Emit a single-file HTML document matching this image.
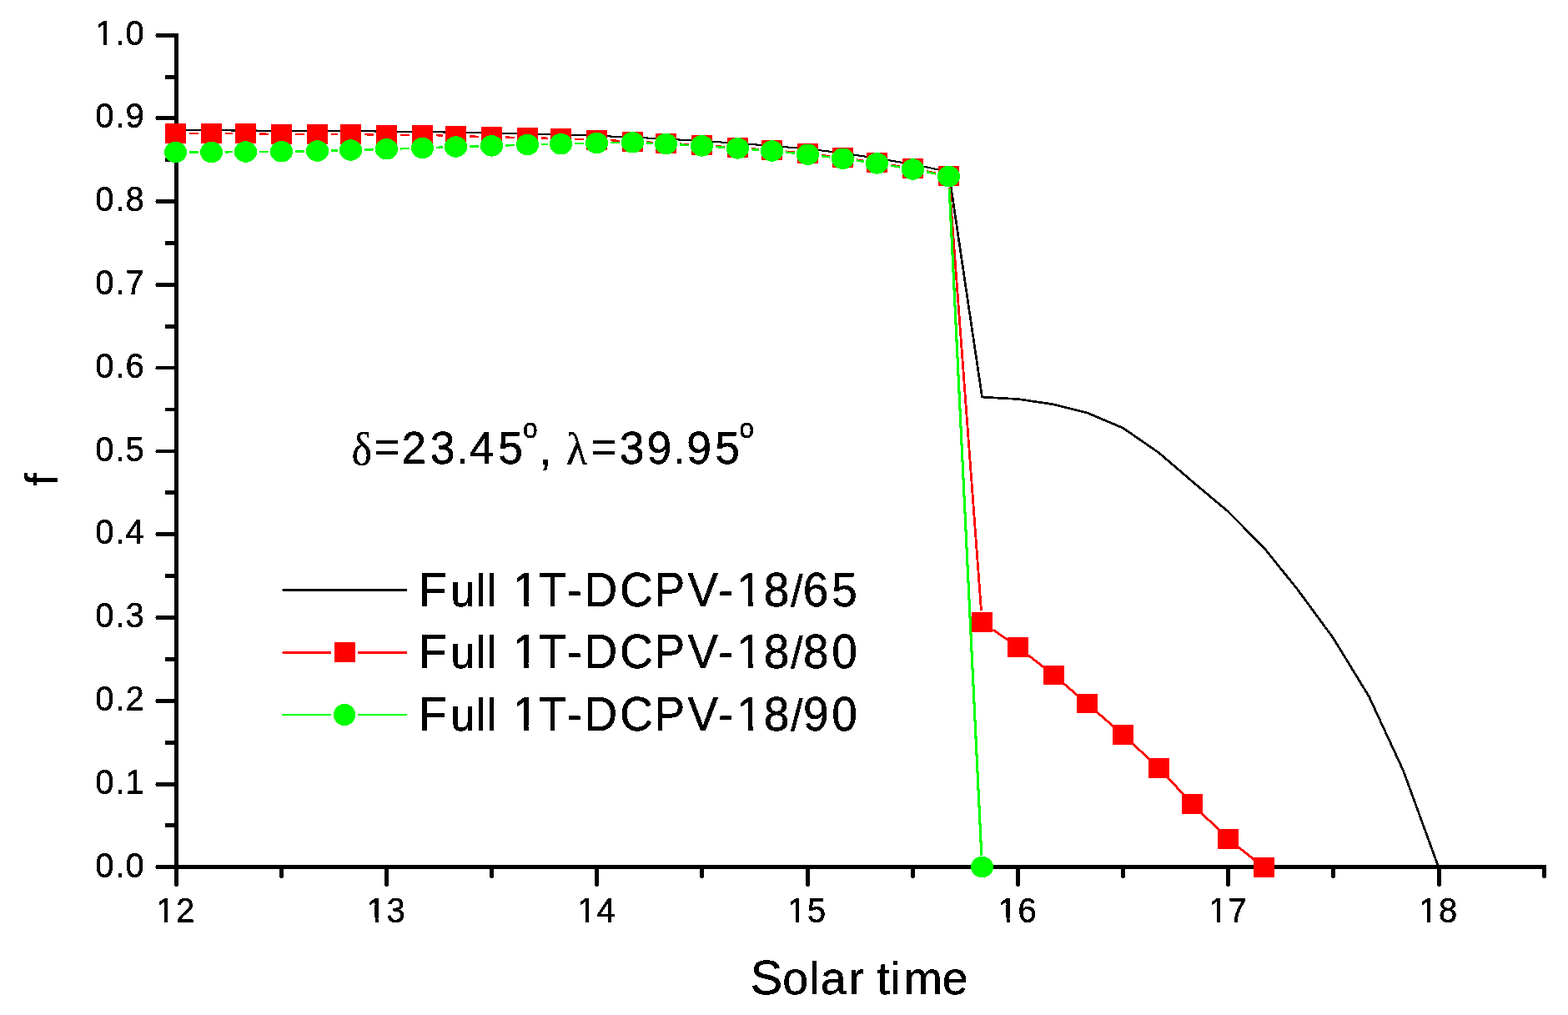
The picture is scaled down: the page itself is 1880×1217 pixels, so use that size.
<!DOCTYPE html>
<html lang="en"><head><meta charset="utf-8"><title>Solar time chart</title>
<style>
html,body{margin:0;padding:0;background:#fff;}
body{width:1880px;height:1217px;overflow:hidden;}
svg{display:block;}
text{font-family:"Liberation Sans",sans-serif;fill:#000;stroke:#000;stroke-width:0.4px;white-space:pre;}
.sym{font-family:"Liberation Serif",serif;stroke-width:0.3px;}
</style></head><body>
<svg width="1880" height="1217" viewBox="0 0 1880 1217">
<rect x="0" y="0" width="1880" height="1217" fill="#fff"/>
<defs><filter id="px" x="-5%" y="-20%" width="110%" height="140%" color-interpolation-filters="sRGB"><feComponentTransfer><feFuncA type="discrete" tableValues="0 1"/></feComponentTransfer></filter><clipPath id="cy1"><path clip-rule="evenodd" shape-rendering="crispEdges" d="M-3000-3000H3000V3000H-3000ZM2.12 -4.77H10V2H2.12ZM14.24 -4.77H21.8V2H14.24Z"/></clipPath><clipPath id="cx1"><path clip-rule="evenodd" shape-rendering="crispEdges" d="M-3000-3000H3000V3000H-3000ZM2.12 -4.77H10V2H2.12ZM14.24 -4.77H21.8V2H14.24Z"/></clipPath><clipPath id="cl1"><path clip-rule="evenodd" shape-rendering="crispEdges" d="M-3000-3000H3000V3000H-3000ZM617.9 -5.81H628.24V2H617.9ZM633.7 -5.81H643.61V2H633.7ZM886.8 -5.81H897.14V2H886.8ZM902.6 -5.81H912.51V2H902.6Z"/></clipPath></defs>
<g fill="#000" shape-rendering="crispEdges">
<rect x="209" y="40" width="5" height="1022"/>
<rect x="210" y="1062" width="3" height="1"/>
<rect x="187" y="1037" width="1667" height="5"/>
<rect x="186" y="1039" width="1" height="1"/>
<rect x="198" y="987" width="11" height="5"/>
<rect x="187" y="938" width="22" height="5"/>
<rect x="186" y="940" width="1" height="1"/>
<rect x="198" y="888" width="11" height="5"/>
<rect x="187" y="838" width="22" height="5"/>
<rect x="186" y="840" width="1" height="1"/>
<rect x="198" y="788" width="11" height="5"/>
<rect x="187" y="738" width="22" height="5"/>
<rect x="186" y="740" width="1" height="1"/>
<rect x="198" y="688" width="11" height="5"/>
<rect x="187" y="638" width="22" height="5"/>
<rect x="186" y="640" width="1" height="1"/>
<rect x="198" y="588" width="11" height="5"/>
<rect x="187" y="539" width="22" height="4"/>
<rect x="186" y="541" width="1" height="1"/>
<rect x="198" y="489" width="11" height="4"/>
<rect x="187" y="439" width="22" height="4"/>
<rect x="186" y="441" width="1" height="1"/>
<rect x="198" y="389" width="11" height="5"/>
<rect x="187" y="339" width="22" height="5"/>
<rect x="186" y="341" width="1" height="1"/>
<rect x="198" y="289" width="11" height="5"/>
<rect x="187" y="239" width="22" height="5"/>
<rect x="186" y="241" width="1" height="1"/>
<rect x="198" y="189" width="11" height="5"/>
<rect x="187" y="139" width="22" height="5"/>
<rect x="186" y="141" width="1" height="1"/>
<rect x="198" y="90" width="11" height="5"/>
<rect x="187" y="40" width="22" height="5"/>
<rect x="186" y="42" width="1" height="1"/>
<rect x="335" y="1042" width="5" height="10"/>
<rect x="336" y="1052" width="3" height="1"/>
<rect x="461" y="1042" width="5" height="20"/>
<rect x="462" y="1062" width="3" height="1"/>
<rect x="587" y="1042" width="5" height="10"/>
<rect x="588" y="1052" width="3" height="1"/>
<rect x="713" y="1042" width="5" height="20"/>
<rect x="714" y="1062" width="3" height="1"/>
<rect x="839" y="1042" width="5" height="10"/>
<rect x="840" y="1052" width="3" height="1"/>
<rect x="966" y="1042" width="5" height="20"/>
<rect x="967" y="1062" width="3" height="1"/>
<rect x="1092" y="1042" width="5" height="10"/>
<rect x="1093" y="1052" width="3" height="1"/>
<rect x="1218" y="1042" width="5" height="20"/>
<rect x="1219" y="1062" width="3" height="1"/>
<rect x="1344" y="1042" width="5" height="10"/>
<rect x="1345" y="1052" width="3" height="1"/>
<rect x="1470" y="1042" width="5" height="20"/>
<rect x="1471" y="1062" width="3" height="1"/>
<rect x="1596" y="1042" width="5" height="10"/>
<rect x="1597" y="1052" width="3" height="1"/>
<rect x="1723" y="1042" width="5" height="20"/>
<rect x="1724" y="1062" width="3" height="1"/>
<rect x="1849" y="1042" width="5" height="10"/>
<rect x="1850" y="1052" width="3" height="1"/>
</g>
<g id="ylabels" filter="url(#px)">
<text transform="translate(114.3 1051.65) scale(0.975 1.055)"><tspan x="0 24.51 37.13" y="0" font-size="41px">0.0</tspan></text>
<text transform="translate(114.3 951.85) scale(0.975 1.055)"><tspan x="0 24.51 37.13" y="0" font-size="41px">0.1</tspan></text>
<text transform="translate(114.3 852.05) scale(0.975 1.055)"><tspan x="0 24.51 37.13" y="0" font-size="41px">0.2</tspan></text>
<text transform="translate(114.3 752.25) scale(0.975 1.055)"><tspan x="0 24.51 37.13" y="0" font-size="41px">0.3</tspan></text>
<text transform="translate(114.3 652.45) scale(0.975 1.055)"><tspan x="0 24.51 37.13" y="0" font-size="41px">0.4</tspan></text>
<text transform="translate(114.3 552.65) scale(0.975 1.055)"><tspan x="0 24.51 37.13" y="0" font-size="41px">0.5</tspan></text>
<text transform="translate(114.3 452.85) scale(0.975 1.055)"><tspan x="0 24.51 37.13" y="0" font-size="41px">0.6</tspan></text>
<text transform="translate(114.3 353.05) scale(0.975 1.055)"><tspan x="0 24.51 37.13" y="0" font-size="41px">0.7</tspan></text>
<text transform="translate(114.3 253.25) scale(0.975 1.055)"><tspan x="0 24.51 37.13" y="0" font-size="41px">0.8</tspan></text>
<text transform="translate(114.3 153.45) scale(0.975 1.055)"><tspan x="0 24.51 37.13" y="0" font-size="41px">0.9</tspan></text>
<text transform="translate(114.5 53.65) scale(0.975 1.055)" clip-path="url(#cy1)"><tspan x="0 24.31 36.92" y="0" font-size="41px">1.0</tspan></text>
</g>
<g id="xlabels" filter="url(#px)">
<text transform="translate(187.5 1105.9) scale(0.975 1.055)" clip-path="url(#cx1)"><tspan x="0 24.21" y="0" font-size="41px">12</tspan></text>
<text transform="translate(439.83 1105.9) scale(0.975 1.055)" clip-path="url(#cx1)"><tspan x="0 24.21" y="0" font-size="41px">13</tspan></text>
<text transform="translate(692.16 1105.9) scale(0.975 1.055)" clip-path="url(#cx1)"><tspan x="0 24.21" y="0" font-size="41px">14</tspan></text>
<text transform="translate(944.49 1105.9) scale(0.975 1.055)" clip-path="url(#cx1)"><tspan x="0 24.21" y="0" font-size="41px">15</tspan></text>
<text transform="translate(1196.82 1105.9) scale(0.975 1.055)" clip-path="url(#cx1)"><tspan x="0 24.21" y="0" font-size="41px">16</tspan></text>
<text transform="translate(1449.15 1105.9) scale(0.975 1.055)" clip-path="url(#cx1)"><tspan x="0 24.21" y="0" font-size="41px">17</tspan></text>
<text transform="translate(1701.48 1105.9) scale(0.975 1.055)" clip-path="url(#cx1)"><tspan x="0 24.21" y="0" font-size="41px">18</tspan></text>
</g>
<g id="titles" filter="url(#px)">
<text transform="translate(0 1191.9)"><tspan x="899.79" y="0" font-size="57.5px">S</tspan><tspan x="938.27 970.46 983.74 1017.41 1035.9 1051.16 1067.29 1083.71 1129.64" y="0" font-size="55.5px">olar time</tspan></text>
<text transform="translate(69 575) rotate(-90)" font-size="56px" text-anchor="middle">f</text>
<text transform="translate(0 556) scale(1 1.044)"><tspan class="sym" x="421.57" y="0.48" font-size="52.5px">δ</tspan><tspan x="448.89" y="-1.92" font-size="51.5px">=</tspan><tspan x="481.31 515.86 546.91 562.97 597.36" y="0" font-size="53.5px">23.45</tspan><tspan x="626.91" y="-29.69" font-size="31.8px">o</tspan><tspan x="646.59 661.46" y="0.48" font-size="53.5px">, </tspan><tspan class="sym" x="678.77" y="0.77" font-size="52.5px">λ</tspan><tspan x="708.99" y="-1.92" font-size="51.5px">=</tspan><tspan x="742.66 775.39 806.91 823.19 857.36" y="0" font-size="53.5px">39.95</tspan><tspan x="886.61" y="-29.69" font-size="31.8px">o</tspan></text>
</g>
<g id="series-65" fill="none" stroke="#000" stroke-linejoin="miter" shape-rendering="crispEdges">
<polyline stroke-width="2.1" points="210.5,156.3 253.5,156.4 294.5,156.5 337.5,156.7 380.5,156.9 420.5,157.2 463.5,157.6 506.5,158.1 546.5,158.7 589.5,159.5 632.5,160.4 672.5,161.5 715.5,162.8 758.5,164.6 798.5,166.7 841.5,169 884.5,171.8 925.5,174.9 968.5,178.5 1010.5,183.6 1051.5,189.8 1094.5,197 1137.5,206"/>
<polyline stroke-width="2.7" points="1137.5,206 1177.5,476.1 1220.5,478.5 1263.5,484.9 1303.5,495 1346.5,513.2 1389.5,542.9 1429.5,577.3 1472.5,613.4 1515.5,656.8 1555.5,706.5 1598.5,765 1641.5,835.3 1682.5,923.9 1724.5,1039"/>
</g>
<g id="series-80">
<g stroke="#f00" fill="none" shape-rendering="crispEdges">
<line x1="227.1" y1="160.1" x2="237.7" y2="160.1" stroke-width="2.2"/>
<line x1="270.1" y1="160.1" x2="278.7" y2="160.1" stroke-width="2.2"/>
<line x1="311.1" y1="160.45" x2="321.7" y2="160.67" stroke-width="2.2"/>
<line x1="354.1" y1="161" x2="364.7" y2="161" stroke-width="2.2"/>
<line x1="397.1" y1="161" x2="404.7" y2="161" stroke-width="2.2"/>
<line x1="437.1" y1="161.35" x2="447.7" y2="161.57" stroke-width="2.2"/>
<line x1="480.1" y1="161.9" x2="490.7" y2="161.9" stroke-width="2.2"/>
<line x1="523.09" y1="162.36" x2="530.71" y2="162.57" stroke-width="2.2"/>
<line x1="563.09" y1="163.42" x2="573.71" y2="163.7" stroke-width="2.2"/>
<line x1="606.09" y1="164.49" x2="616.71" y2="164.73" stroke-width="2.2"/>
<line x1="649.09" y1="165.47" x2="656.71" y2="165.64" stroke-width="2.2"/>
<line x1="689.09" y1="166.62" x2="699.71" y2="167.01" stroke-width="2.2"/>
<line x1="732.08" y1="168.33" x2="742.72" y2="168.8" stroke-width="2.2"/>
<line x1="775.07" y1="170.37" x2="782.73" y2="170.77" stroke-width="2.2"/>
<line x1="815.07" y1="172.52" x2="825.73" y2="173.12" stroke-width="2.2"/>
<line x1="858.05" y1="175.15" x2="868.75" y2="175.9" stroke-width="2.2"/>
<line x1="901.04" y1="178.21" x2="909.75" y2="178.85" stroke-width="2.2"/>
<line x1="942.01" y1="181.54" x2="952.79" y2="182.54" stroke-width="2.2"/>
<line x1="984.95" y1="185.96" x2="994.84" y2="187.14" stroke-width="2.2"/>
<line x1="1026.88" y1="191.4" x2="1035.91" y2="192.72" stroke-width="2.2"/>
<line x1="1067.83" y1="197.66" x2="1078.96" y2="199.47" stroke-width="2.2"/>
<line x1="1110.7" y1="205.2" x2="1122.08" y2="207.45" stroke-width="2.2"/>
<line x1="1138.6" y1="225.17" x2="1176.46" y2="731.93" stroke-width="2.8"/>
<line x1="1190.5" y1="754.93" x2="1208.15" y2="767.33" stroke-width="2.8"/>
<line x1="1232.96" y1="785.71" x2="1251.67" y2="800.28" stroke-width="2.8"/>
<line x1="1275.46" y1="819.69" x2="1292.15" y2="833.93" stroke-width="2.8"/>
<line x1="1315.34" y1="853.9" x2="1335.26" y2="871.23" stroke-width="2.8"/>
<line x1="1357.96" y1="891.63" x2="1378.63" y2="910.81" stroke-width="2.8"/>
<line x1="1400.05" y1="932.24" x2="1419.49" y2="953.14" stroke-width="2.8"/>
<line x1="1440.63" y1="974.8" x2="1461.94" y2="995.66" stroke-width="2.8"/>
<line x1="1484.88" y1="1015.79" x2="1503.75" y2="1030.71" stroke-width="2.8"/>
</g>
<g fill="#f00" shape-rendering="crispEdges">
<rect x="198" y="148" width="25" height="24"/>
<rect x="241" y="148" width="25" height="24"/>
<rect x="282" y="148" width="25" height="24"/>
<rect x="325" y="149" width="25" height="24"/>
<rect x="368" y="149" width="25" height="24"/>
<rect x="408" y="149" width="25" height="24"/>
<rect x="451" y="150" width="25" height="24"/>
<rect x="494" y="150" width="25" height="24"/>
<rect x="534" y="151" width="25" height="24"/>
<rect x="577" y="152" width="25" height="24"/>
<rect x="620" y="153" width="25" height="24"/>
<rect x="660" y="154" width="25" height="24"/>
<rect x="703" y="156" width="25" height="24"/>
<rect x="746" y="158" width="25" height="24"/>
<rect x="786" y="160" width="25" height="24"/>
<rect x="829" y="162" width="25" height="24"/>
<rect x="872" y="165" width="25" height="24"/>
<rect x="913" y="168" width="25" height="24"/>
<rect x="956" y="172" width="25" height="24"/>
<rect x="998" y="177" width="25" height="24"/>
<rect x="1039" y="183" width="25" height="24"/>
<rect x="1082" y="190" width="25" height="24"/>
<rect x="1125" y="199" width="25" height="24"/>
<rect x="1165" y="734" width="25" height="24"/>
<rect x="1208" y="764" width="25" height="24"/>
<rect x="1251" y="798" width="25" height="23"/>
<rect x="1291" y="832" width="25" height="23"/>
<rect x="1334" y="869" width="25" height="24"/>
<rect x="1377" y="909" width="25" height="24"/>
<rect x="1417" y="952" width="25" height="24"/>
<rect x="1460" y="994" width="25" height="24"/>
<rect x="1503" y="1028" width="25" height="24"/>
</g></g>
<g id="series-90">
<g stroke="#0f0" fill="none" shape-rendering="crispEdges">
<line x1="227.1" y1="182.5" x2="237.7" y2="182.5" stroke-width="2.5"/>
<line x1="270.1" y1="182.3" x2="278.7" y2="182.19" stroke-width="2.5"/>
<line x1="311.1" y1="181.92" x2="321.7" y2="181.87" stroke-width="2.5"/>
<line x1="354.1" y1="181.49" x2="364.7" y2="181.29" stroke-width="2.5"/>
<line x1="397.09" y1="180.59" x2="404.71" y2="180.39" stroke-width="2.5"/>
<line x1="437.09" y1="179.54" x2="447.71" y2="179.24" stroke-width="2.5"/>
<line x1="480.09" y1="178.3" x2="490.71" y2="177.98" stroke-width="2.5"/>
<line x1="523.09" y1="176.88" x2="530.71" y2="176.59" stroke-width="2.5"/>
<line x1="563.09" y1="175.58" x2="573.71" y2="175.3" stroke-width="2.5"/>
<line x1="606.09" y1="174.4" x2="616.71" y2="174.08" stroke-width="2.5"/>
<line x1="649.09" y1="173.23" x2="656.71" y2="173.06" stroke-width="2.5"/>
<line x1="689.09" y1="172.24" x2="699.71" y2="171.94" stroke-width="2.5"/>
<line x1="732.1" y1="171.23" x2="742.7" y2="171.06" stroke-width="2.5"/>
<line x1="775.08" y1="171.55" x2="782.72" y2="171.89" stroke-width="2.5"/>
<line x1="815.07" y1="173.49" x2="825.73" y2="174.06" stroke-width="2.5"/>
<line x1="858.05" y1="176.05" x2="868.75" y2="176.8" stroke-width="2.5"/>
<line x1="901.04" y1="179.15" x2="909.76" y2="179.81" stroke-width="2.5"/>
<line x1="942" y1="182.61" x2="952.8" y2="183.67" stroke-width="2.5"/>
<line x1="984.95" y1="187.16" x2="994.84" y2="188.34" stroke-width="2.5"/>
<line x1="1026.9" y1="192.48" x2="1035.89" y2="193.73" stroke-width="2.5"/>
<line x1="1067.82" y1="198.59" x2="1078.97" y2="200.44" stroke-width="2.5"/>
<line x1="1110.7" y1="206.2" x2="1122.08" y2="208.45" stroke-width="2.5"/>
<line x1="1138.21" y1="226.19" x2="1176.83" y2="1025.61" stroke-width="3.1"/>
</g>
<g fill="#0f0" shape-rendering="crispEdges">
<ellipse cx="210.5" cy="182.5" rx="13.6" ry="12.7"/>
<ellipse cx="253.5" cy="182.5" rx="13.6" ry="12.7"/>
<ellipse cx="294.5" cy="182" rx="13.6" ry="12.7"/>
<ellipse cx="337.5" cy="181.8" rx="13.6" ry="12.7"/>
<ellipse cx="380.5" cy="181" rx="13.6" ry="12.7"/>
<ellipse cx="420.5" cy="180" rx="13.6" ry="12.7"/>
<ellipse cx="463.5" cy="178.8" rx="13.6" ry="12.7"/>
<ellipse cx="506.5" cy="177.5" rx="13.6" ry="12.7"/>
<ellipse cx="546.5" cy="176" rx="13.6" ry="12.7"/>
<ellipse cx="589.5" cy="174.9" rx="13.6" ry="12.7"/>
<ellipse cx="632.5" cy="173.6" rx="13.6" ry="12.7"/>
<ellipse cx="672.5" cy="172.7" rx="13.6" ry="12.7"/>
<ellipse cx="715.5" cy="171.5" rx="13.6" ry="12.7"/>
<ellipse cx="758.5" cy="170.8" rx="13.6" ry="12.7"/>
<ellipse cx="798.5" cy="172.6" rx="13.6" ry="12.7"/>
<ellipse cx="841.5" cy="174.9" rx="13.6" ry="12.7"/>
<ellipse cx="884.5" cy="177.9" rx="13.6" ry="12.7"/>
<ellipse cx="925.5" cy="181" rx="13.6" ry="12.7"/>
<ellipse cx="968.5" cy="185.2" rx="13.6" ry="12.7"/>
<ellipse cx="1010.5" cy="190.2" rx="13.6" ry="12.7"/>
<ellipse cx="1051.5" cy="195.9" rx="13.6" ry="12.7"/>
<ellipse cx="1094.5" cy="203" rx="13.6" ry="12.7"/>
<ellipse cx="1137.5" cy="211.5" rx="13.6" ry="12.7"/>
<ellipse cx="1177.5" cy="1039.5" rx="13.6" ry="12.7"/>
</g></g>
<g id="legend">
<g shape-rendering="crispEdges">
<rect x="339" y="706" width="149" height="3" fill="#000"/><rect x="338" y="707" width="1" height="1" fill="#000"/>
<rect x="339" y="781" width="58" height="3" fill="#f00"/><rect x="338" y="782" width="1" height="1" fill="#f00"/><rect x="429" y="781" width="59" height="3" fill="#f00"/>
<rect x="401" y="770" width="25" height="24" fill="#f00"/>
<rect x="338" y="856" width="59" height="2" fill="#0f0"/><rect x="429" y="856" width="59" height="2" fill="#0f0"/>
</g>
<circle cx="413" cy="857" r="13.1" fill="#0f0" shape-rendering="crispEdges"/>
<g id="legend-text" filter="url(#px)">
<text transform="translate(0 727) scale(1 1.055)" clip-path="url(#cl1)"><tspan x="502.39" y="0" font-size="55px">F</tspan><tspan x="540.21 570.59 583.69 595.27" y="0" font-size="52.13px">ull </tspan><tspan x="614.71 645.66 679.46 700.49 743.21 784.49 824.56 861.36 883.61 915.81" y="0" font-size="55px">1T-DCPV-18</tspan><tspan x="948.2" y="-0.28" font-size="51.35px">/</tspan><tspan x="962.71 997.3" y="0" font-size="55px">65</tspan></text>
<text transform="translate(0 801) scale(1 1.055)" clip-path="url(#cl1)"><tspan x="502.39" y="0" font-size="55px">F</tspan><tspan x="540.21 570.59 583.69 595.27" y="0" font-size="52.13px">ull </tspan><tspan x="614.71 645.66 679.46 700.49 743.21 784.49 824.56 861.36 883.61 915.81" y="0" font-size="55px">1T-DCPV-18</tspan><tspan x="948.2" y="-0.28" font-size="51.35px">/</tspan><tspan x="963.11 997.35" y="0" font-size="55px">80</tspan></text>
<text transform="translate(0 876) scale(1 1.055)" clip-path="url(#cl1)"><tspan x="502.39" y="0" font-size="55px">F</tspan><tspan x="540.21 570.59 583.69 595.27" y="0" font-size="52.13px">ull </tspan><tspan x="614.71 645.66 679.46 700.49 743.21 784.49 824.56 861.36 883.61 915.81" y="0" font-size="55px">1T-DCPV-18</tspan><tspan x="948.2" y="-0.28" font-size="51.35px">/</tspan><tspan x="962.92 997.35" y="0" font-size="55px">90</tspan></text>
</g>
</g>
</svg>
</body></html>
